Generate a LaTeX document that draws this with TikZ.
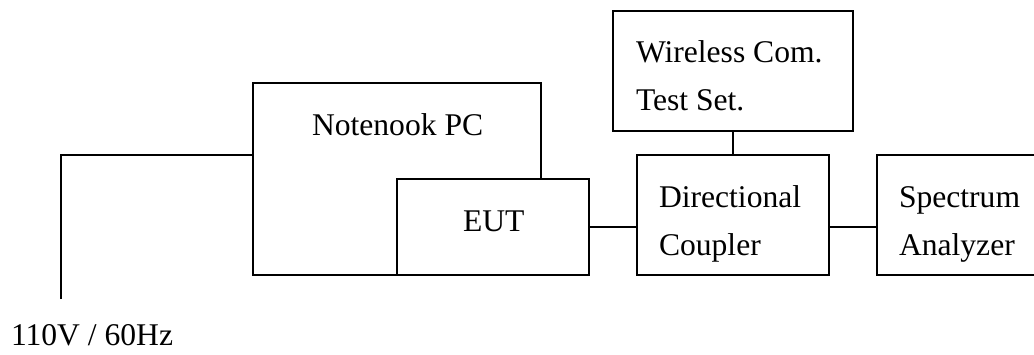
\documentclass[tikz,border=0pt]{standalone}
\usepackage{fontspec}
\setmainfont{Liberation Serif}
\begin{document}
\begin{tikzpicture}[x=0.5pt,y=-0.5pt,line width=1pt,
	box/.style={draw,fill=white,inner sep=0pt},
	lbl/.style={inner sep=0pt,anchor=base west,align=left,font=\fontsize{15.8}{24}\selectfont}]
	\useasboundingbox (0,0) rectangle (1034,354);
	
	\node[box,minimum width=144pt,minimum height=96pt] (pc) at (397,179) {};
	\node[box,minimum width=96pt,minimum height=48pt] (eut) at (493,227) {};
	\node[box,minimum width=96pt,minimum height=60pt] (dc) at (733,215) {};
	\node[box,minimum width=120pt,minimum height=60pt] (wcts) at (733,71) {};
	\node[box,minimum width=96pt,minimum height=60pt] (sa) at (973,215) {};
	
	\node[lbl] (pctext) at (311,135) {Notenook PC};
	\node[lbl] (euttext) at (462,231) {EUT};
	\node[lbl] (dctext) at (658,255) {Directional\\Coupler};
	\node[lbl] (wctext) at (635,110) {Wireless Com.\\Test Set.};
	\node[lbl] (satext) at (898,255) {Spectrum\\Analyzer};
	\node[lbl] (pwrtext) at (10,345) {110V / 60Hz};
	
	\coordinate (plug) at (61,299);
	\coordinate (bend) at (61,155);
	\draw (plug) -- (bend) -- (bend -| pc.west);
	\draw (eut.east) -- (eut.east -| dc.west);
	\draw (wcts.south) -- (dc.north);
	\draw (eut.east -| dc.east) -- (eut.east -| sa.west);
\end{tikzpicture}
\end{document}
